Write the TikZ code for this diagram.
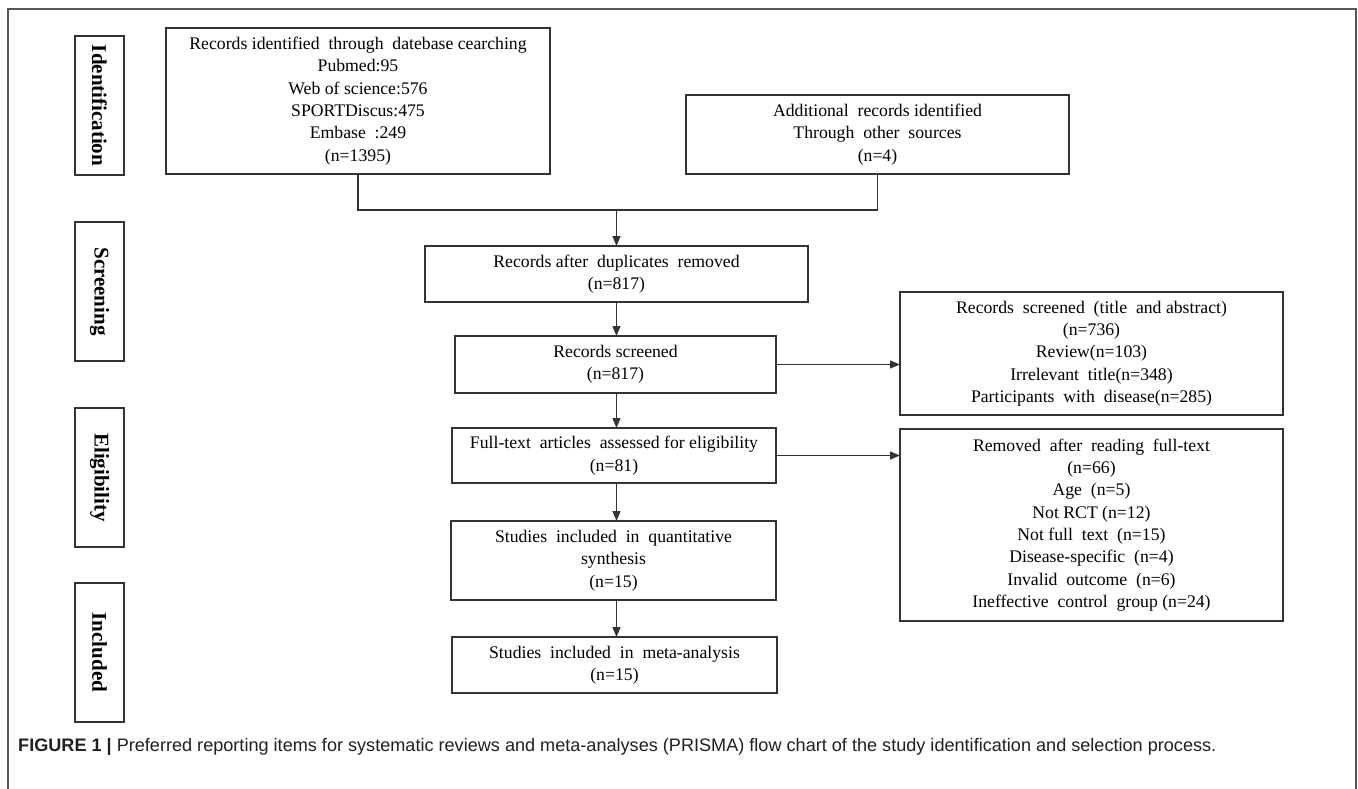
\documentclass[tikz,border=0pt]{standalone}
\usepackage{fontspec}
\setmainfont{Liberation Serif}
\newfontfamily\capfont{Liberation Sans}
\usetikzlibrary{arrows.meta}
\definecolor{boxc}{HTML}{333333}
\definecolor{framec}{HTML}{555555}
\definecolor{capc}{HTML}{231F20}
\begin{document}
\begin{tikzpicture}[x=1pt,y=-1pt,
  box/.style={draw=boxc, line width=1.2pt, inner sep=0pt, outer sep=0pt, align=center,
    font=\fontsize{17.7}{22.3}\selectfont, text=black},
  stage/.style={draw=boxc, line width=1.2pt, inner sep=0pt, outer sep=0pt, rotate=-90,
    minimum width=139pt, minimum height=49pt, font=\bfseries\fontsize{21}{24}\selectfont},
  link/.style={draw=boxc, line width=1.2pt},
  arr/.style={link, -{Triangle[length=10pt,width=8pt]}}]
\useasboundingbox (0,0) rectangle (1358,789);
\fill[white] (0,0) rectangle (1358,789);
% frame
\draw[framec, line width=1.5pt] (8,795) -- (8,9) -- (1356,9) -- (1356,795);

% stage labels
\node[stage] (sid) at (99.5,105.5) {Identification};
\node[stage] (ssc) at (99.5,291.5) {Screening};
\node[stage] (sel) at (99.5,477.5) {Eligibility};
\node[stage] (sin) at (99.5,652.5) {Included};

% boxes
\node[box, minimum width=384pt, minimum height=146pt] (rid) at (358,101)
  {Records identified~ through~ datebase cearching\\Pubmed:95\\Web of science:576\\SPORTDiscus:475\\Embase~ :249\\(n=1395)};
\node[box, minimum width=383pt, minimum height=79pt] (add) at (877.5,134.5)
  {Additional~ records identified\\Through~ other~ sources\\(n=4)};
\node[box, minimum width=383pt, minimum height=56pt] (dup) at (616.5,274)
  {Records after~ duplicates~ removed\\(n=817)};
\node[box, minimum width=321pt, minimum height=57pt] (scr) at (615.5,364.5)
  {Records screened\\(n=817)};
\node[box, minimum width=324pt, minimum height=55pt] (ft) at (614,455.5)
  {Full-text~ articles~ assessed for eligibility\\(n=81)};
\node[box, minimum width=325pt, minimum height=79pt] (qs) at (613.5,560.5)
  {Studies~ included~ in~ quantitative\\synthesis\\(n=15)};
\node[box, minimum width=325pt, minimum height=56pt] (ma) at (614.5,665)
  {Studies~ included~ in~ meta-analysis\\(n=15)};
\node[box, minimum width=383pt, minimum height=123pt] (ex1) at (1091.5,353.5)
  {Records~ screened~ (title~ and abstract)\\(n=736)\\Review(n=103)\\Irrelevant~ title(n=348)\\Participants~ with~ disease(n=285)};
\node[box, minimum width=383pt, minimum height=192pt] (ex2) at (1091.5,525)
  {Removed~ after~ reading~ full-text\\(n=66)\\Age~ (n=5)\\Not RCT (n=12)\\Not full~ text~ (n=15)\\Disease-specific~ (n=4)\\Invalid~ outcome~ (n=6)\\Ineffective~ control~ group (n=24)};

% connectors
\coordinate (jl) at (358,210);
\coordinate (jr) at (877.5,210);
\coordinate (jm) at (616.5,210);
\draw[link] (rid.south) -- (jl) -- (jr) -- (add.south);
\draw[arr] (jm) -- (dup.north);
\draw[arr] (dup.south) -- (dup.south |- scr.north);
\draw[arr] (dup.south |- scr.south) -- (dup.south |- ft.north);
\draw[arr] (dup.south |- ft.south) -- (dup.south |- qs.north);
\draw[arr] (dup.south |- qs.south) -- (dup.south |- ma.north);
\draw[arr] (scr.east) -- (scr.east -| ex1.west);
\draw[arr] (ft.east) -- (ft.east -| ex2.west);

% caption
\node[anchor=west, inner sep=0pt, text=capc, font=\capfont\fontsize{18.1}{22}\selectfont] (cap) at (18,747)
  {\textbf{FIGURE 1 |} Preferred reporting items for systematic reviews and meta-analyses (PRISMA) flow chart of the study identification and selection process.};
\end{tikzpicture}
\end{document}
